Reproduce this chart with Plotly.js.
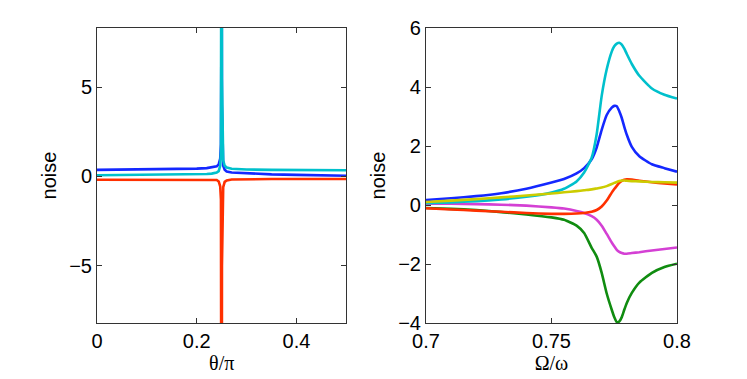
<!DOCTYPE html>
<html>
<head>
<meta charset="utf-8">
<script src="https://cdn.plot.ly/plotly-3.0.1.min.js"></script>
<style>html,body{margin:0;padding:0;background:#fff;}#chart{width:747px;height:379px;}</style>
</head>
<body>
<div id="chart"></div>
<script>
// ---- Left panel: noise vs theta/pi ----
var thetaX = [0, 0.05, 0.1, 0.15, 0.2, 0.22, 0.23, 0.24, 0.244, 0.247, 0.2485, 0.2495, 0.25, 0.2505, 0.2515, 0.253, 0.256, 0.26, 0.27, 0.3, 0.35, 0.4, 0.45, 0.5];
var leftBlue = [0.37, 0.38, 0.39, 0.41, 0.44, 0.47, 0.5, 0.57, 0.68, 1.0, 1.8, 4.5, 12, 4.0, 1.2, 0.6, 0.38, 0.28, 0.22, 0.17, 0.12, 0.09, 0.06, 0.04];
var leftCyan = [0.07, 0.08, 0.09, 0.1, 0.12, 0.14, 0.16, 0.22, 0.3, 0.6, 1.4, 5, 30, 5.5, 1.6, 0.9, 0.6, 0.5, 0.43, 0.39, 0.37, 0.36, 0.36, 0.35];
var leftRed = [-0.18, -0.18, -0.18, -0.18, -0.17, -0.17, -0.17, -0.2, -0.28, -0.55, -1.3, -5, -30, -5, -1.3, -0.6, -0.3, -0.22, -0.17, -0.15, -0.14, -0.14, -0.14, -0.14];

// ---- Right panel: noise vs Omega/omega ----
var omegaX = [0.70, 0.71, 0.72, 0.73, 0.74, 0.75, 0.755, 0.76, 0.763, 0.766, 0.768, 0.770, 0.772, 0.774, 0.775, 0.776, 0.777, 0.778, 0.779, 0.780, 0.782, 0.785, 0.79, 0.795, 0.80];
var rightCyan = [0.06, 0.09, 0.13, 0.19, 0.28, 0.42, 0.55, 0.8, 1.1, 1.6, 2.4, 3.7, 4.6, 5.2, 5.38, 5.47, 5.5, 5.44, 5.3, 5.12, 4.78, 4.38, 3.95, 3.74, 3.61];
var rightBlue = [0.17, 0.23, 0.3, 0.4, 0.55, 0.76, 0.88, 1.07, 1.25, 1.55, 1.95, 2.55, 3.05, 3.3, 3.36, 3.35, 3.18, 2.95, 2.65, 2.38, 1.97, 1.65, 1.38, 1.25, 1.13];
var rightYellow = [0.1, 0.15, 0.2, 0.26, 0.32, 0.39, 0.43, 0.47, 0.5, 0.53, 0.56, 0.59, 0.64, 0.71, 0.75, 0.78, 0.81, 0.83, 0.83, 0.82, 0.81, 0.8, 0.78, 0.77, 0.76];
var rightRed = [-0.11, -0.15, -0.19, -0.23, -0.27, -0.3, -0.3, -0.29, -0.27, -0.23, -0.17, -0.05, 0.15, 0.42, 0.54, 0.65, 0.75, 0.82, 0.86, 0.87, 0.86, 0.82, 0.77, 0.73, 0.70];
var rightMagenta = [0.04, 0.04, 0.03, 0.01, -0.02, -0.08, -0.12, -0.2, -0.27, -0.38, -0.5, -0.7, -0.98, -1.27, -1.4, -1.52, -1.59, -1.63, -1.65, -1.65, -1.63, -1.6, -1.54, -1.49, -1.44];
var rightGreen = [-0.1, -0.13, -0.17, -0.24, -0.32, -0.42, -0.5, -0.7, -0.95, -1.45, -1.75, -2.3, -3.0, -3.55, -3.8, -3.97, -3.95, -3.8, -3.55, -3.32, -2.98, -2.63, -2.3, -2.1, -1.99];

var leftTicksX = [0, 0.2, 0.4];
var leftTicksY = [-5, 0, 5];
var rightTicksX = [0.7, 0.75, 0.8];
var rightTicksY = [-4, -2, 0, 2, 4, 6];

var C = {blue:'rgb(20,40,255)', cyan:'rgb(0,192,204)', red:'rgb(255,48,0)', yellow:'rgb(204,204,0)', magenta:'rgb(212,64,212)', green:'rgb(16,140,16)'};
function tr(x, y, col, xa, ya, shape) {
  return {x:x, y:y, type:'scatter', mode:'lines', xaxis:xa, yaxis:ya, showlegend:false,
          line:{color:col, width:2.6, shape:shape||'linear', smoothing:0.5}, hoverinfo:'skip'};
}
var data = [
  tr(thetaX, leftRed, C.red, 'x', 'y'),
  tr(thetaX, leftBlue, C.blue, 'x', 'y'),
  tr(thetaX, leftCyan, C.cyan, 'x', 'y'),
  tr(omegaX, rightGreen, C.green, 'x2', 'y2', 'spline'),
  tr(omegaX, rightMagenta, C.magenta, 'x2', 'y2', 'spline'),
  tr(omegaX, rightRed, C.red, 'x2', 'y2', 'spline'),
  tr(omegaX, rightBlue, C.blue, 'x2', 'y2', 'spline'),
  tr(omegaX, rightCyan, C.cyan, 'x2', 'y2', 'spline'),
  tr(omegaX, rightYellow, C.yellow, 'x2', 'y2', 'spline')
];
var tickFont = {family:'Liberation Sans, Arial, sans-serif', size:20, color:'#000'};
var sansTitle = {family:'Liberation Sans, Arial, sans-serif', size:20, color:'#000'};
var serifTitle = {family:'Liberation Serif, Times New Roman, serif', size:20, color:'#000'};
function ax(extra) {
  var base = {showgrid:false, zeroline:false, showline:true, linecolor:'#333', linewidth:1,
              mirror:'ticks', ticks:'inside', ticklen:5, tickwidth:1, tickcolor:'#333',
              tickfont:tickFont, automargin:false, fixedrange:true};
  for (var k in extra) base[k] = extra[k];
  return base;
}
var layout = {
  width:747, height:379,
  margin:{l:97, r:70, t:28, b:56},
  paper_bgcolor:'#fff', plot_bgcolor:'#fff',
  xaxis: ax({domain:[0, 0.43], range:[0, 0.5], tickvals:leftTicksX, ticktext:['0','0.2','0.4'],
             title:{text:'θ/π', font:serifTitle, standoff:0}}),
  yaxis: ax({range:[-8.21, 8.32], tickvals:leftTicksY, ticktext:['\u22125','0','5'],
             title:{text:'noise', font:sansTitle, standoff:7}}),
  xaxis2: ax({domain:[0.5672, 1], range:[0.7, 0.8], tickvals:rightTicksX, ticktext:['0.7','0.75','0.8'], anchor:'y2',
             title:{text:'Ω/ω', font:serifTitle, standoff:0}}),
  yaxis2: ax({range:[-4, 6], tickvals:rightTicksY, ticktext:['\u22124','\u22122','0','2','4','6'], anchor:'x2',
             title:{text:'noise', font:sansTitle, standoff:7}})
};
Plotly.newPlot('chart', data, layout, {displayModeBar:false, staticPlot:true});
</script>
</body>
</html>
